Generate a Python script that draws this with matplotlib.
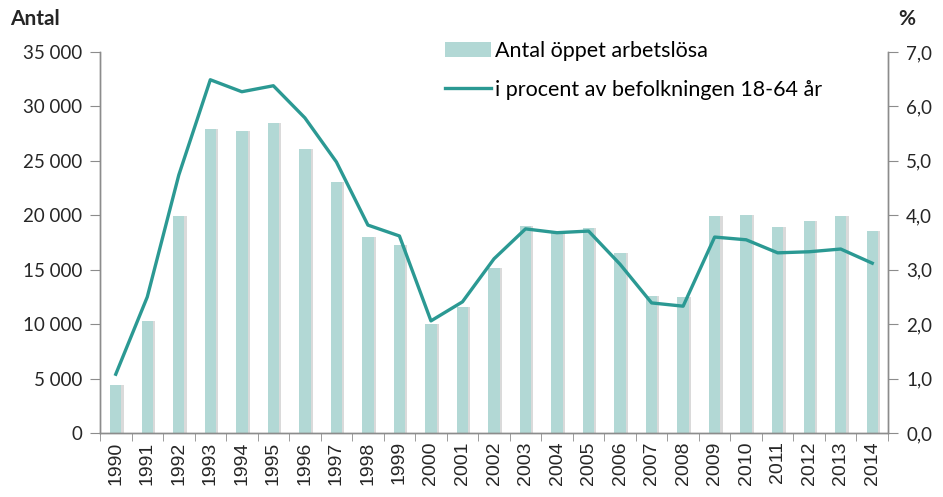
import numpy as np
import matplotlib
matplotlib.use('Agg')
import matplotlib.pyplot as plt
from matplotlib.ticker import FuncFormatter, FixedLocator

plt.rcParams['font.family'] = ['Lato', 'DejaVu Sans']

# data
years = list(range(1990, 2015))
antal = [4400, 10300, 19900, 27900, 27700, 28500, 26100, 23100, 18000, 17300,
         10000, 11600, 15200, 19000, 18400, 18800, 16500, 12600, 12500, 19900,
         20000, 18900, 19500, 19900, 18600]
procent = [1.08, 2.50, 4.74, 6.49, 6.27, 6.38, 5.79, 4.98, 3.82, 3.62,
           2.06, 2.41, 3.20, 3.75, 3.68, 3.71, 3.10, 2.39, 2.33, 3.60,
           3.55, 3.31, 3.33, 3.38, 3.12]

bar_col = '#b2d8d5'
line_col = '#2b9993'
grey = '#8c8c8c'

fig = plt.figure(figsize=(9.43, 4.97), dpi=100)
ax = fig.add_axes([100/943, 1-433/497, 788/943, 381/497])
x = np.arange(len(years))

# soft shadow to the right of each bar
ax.bar(x + 0.07, antal, width=0.36, color='#dadada', zorder=1)
ax.bar(x, antal, width=0.36, color=bar_col, zorder=2, label='Antal öppet arbetslösa')
ax.set_xlim(-0.5, len(years) - 0.5)
ax.set_ylim(0, 35000)
ax.set_yticks(np.arange(0, 35001, 5000))
ax.yaxis.set_major_formatter(FuncFormatter(lambda v, p: f'{int(v):,}'.replace(',', ' ')))

ax.xaxis.set_major_locator(FixedLocator(x))
ax.set_xticklabels([str(y) for y in years], rotation=90,
                   family=['Liberation Sans', 'DejaVu Sans'], fontsize=14)
ax.tick_params(axis='x', length=0, pad=6, colors='#262626')
ax.xaxis.set_minor_locator(FixedLocator(np.arange(-0.5, len(years), 1)))
ax.tick_params(axis='x', which='minor', length=6, color=grey, direction='out')
ax.tick_params(axis='y', length=7, color=grey, labelsize=13.5, labelcolor='#262626', pad=6)

ax2 = ax.twinx()
ax2.plot(x, procent, color=line_col, lw=2.4, solid_joinstyle='round',
         label='i procent av befolkningen 18-64 år', zorder=3)
ax2.set_ylim(0, 7)
ax2.set_yticks(np.arange(0, 7.01, 1))
ax2.yaxis.set_major_formatter(FuncFormatter(lambda v, p: f'{v:.1f}'.replace('.', ',')))
ax2.tick_params(axis='y', length=7, color=grey, labelsize=13.5, labelcolor='#262626', pad=6)

for a in (ax, ax2):
    a.spines['top'].set_visible(False)
    for s in ('left', 'right', 'bottom'):
        a.spines[s].set_color(grey)
        a.spines[s].set_linewidth(1.0)

fig.text(10/943, 1-19/497, 'Antal', fontsize=15, fontweight='bold', va='center', ha='left', color='#262626')
fig.text(898/943, 1-19/497, '%', fontsize=15, fontweight='bold', va='center', ha='left', color='#262626')

h1, l1 = ax.get_legend_handles_labels()
h2, l2 = ax2.get_legend_handles_labels()
fig.legend(h1[-1:] + h2, l1[-1:] + l2, loc='upper left', bbox_to_anchor=(426/943, 1-22/497),
           frameon=False, fontsize=15.5, handlelength=2.1, labelspacing=0.85, handletextpad=0.2)

fig.savefig('out.png', dpi=100)
